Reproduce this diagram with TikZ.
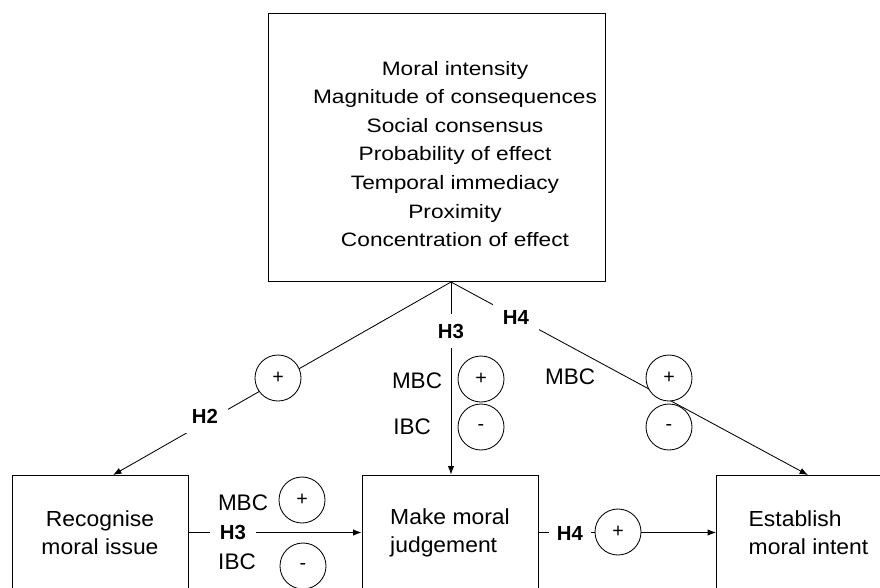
\documentclass[tikz,border=0pt]{standalone}
\usepackage{fontspec}
\setmainfont{Liberation Sans}
\newfontfamily\widefont[FakeStretch=1.17]{Liberation Sans}
\newfontfamily\boxfont[FakeStretch=1.05]{Liberation Sans}
\usetikzlibrary{arrows.meta, positioning}
\tikzset{
    bigbox/.style={rectangle, draw, minimum width=8.425cm, minimum height=6.7cm},
    listtext/.style={align=center, font=\widefont\fontsize{13.8}{20.3}\selectfont},
    stagebox/.style={rectangle, draw, minimum width=4.4cm, minimum height=2.875cm,
                     align=center, font=\boxfont\fontsize{15.5}{20}\selectfont},
    sign/.style={circle, draw, fill=white, minimum size=1.15cm, inner sep=0pt,
                 font=\fontsize{14}{14}\selectfont},
    hyp/.style={fill=white, inner sep=0.25cm, font=\bfseries\fontsize{14.5}{14.5}\selectfont},
    modlabel/.style={inner sep=0pt, font=\fontsize{16}{16}\selectfont},
    arrow/.style={-{Latex[length=6pt,width=4.5pt]}, line width=0.6pt}
}

\begin{document}
\begin{tikzpicture}[x=0.025cm, y=-0.025cm, line width=0.6pt]
    \useasboundingbox (0,0) rectangle (880,587);
    \clip (0,0) rectangle (880,587);

    \node[bigbox] (intensity) at (436.5,147) {};
    \node[listtext] (factors) at (455,154) {Moral intensity\\Magnitude of consequences\\Social consensus\\Probability of effect\\Temporal immediacy\\Proximity\\Concentration of effect};
    \node[stagebox] (recognise) at (100,532.5) {Recognise\\moral issue};
    \node[stagebox, align=left] (judgement) at (450,532.5) {Make moral\\judgement};
    \node[stagebox, align=left, minimum width=4.6cm] (intent) at (808.5,532.5) {Establish\\moral intent};

    \coordinate (apex) at (451,282);
    \coordinate (h2end) at (113,475);
    \coordinate (h4end) at (808,475);

    \draw[arrow] (apex) -- (h2end);
    \draw[arrow] (apex) -- (apex |- judgement.north);
    \draw[arrow] (apex) -- (h4end);
    \draw[arrow] (recognise.east) -- (judgement.west);
    \draw[arrow] (judgement.east) -- (intent.west);

    \node[hyp] (h2) at (205,416) {H2};
    \node[hyp] (h3top) at (451,331) {H3};
    \node[hyp] (h4top) at (516,317) {H4};
    \node[hyp] (h3mid) at (233,532) {H3};
    \node[hyp, inner xsep=0.2cm] (h4mid) at (570,533) {H4};

    \node[sign] (plusa) at (278,378) {+};
    \node[sign] (plusb) at (481,379) {+};
    \node[sign] (minusb) at (481,427) {-};
    \node[sign] (plusc) at (669,378) {+};
    \node[sign] (minusc) at (669,427) {-};
    \node[sign] (plusd) at (302,500) {+};
    \node[sign] (minusd) at (303,566) {-};
    \node[sign] (pluse) at (618,532) {+};

    \node[modlabel] (mbcb) at (417,381) {MBC};
    \node[modlabel] (ibcb) at (412,427) {IBC};
    \node[modlabel] (mbcc) at (570,377) {MBC};
    \node[modlabel] (mbcd) at (243,503) {MBC};
    \node[modlabel] (ibcd) at (237,562) {IBC};
\end{tikzpicture}
\end{document}
